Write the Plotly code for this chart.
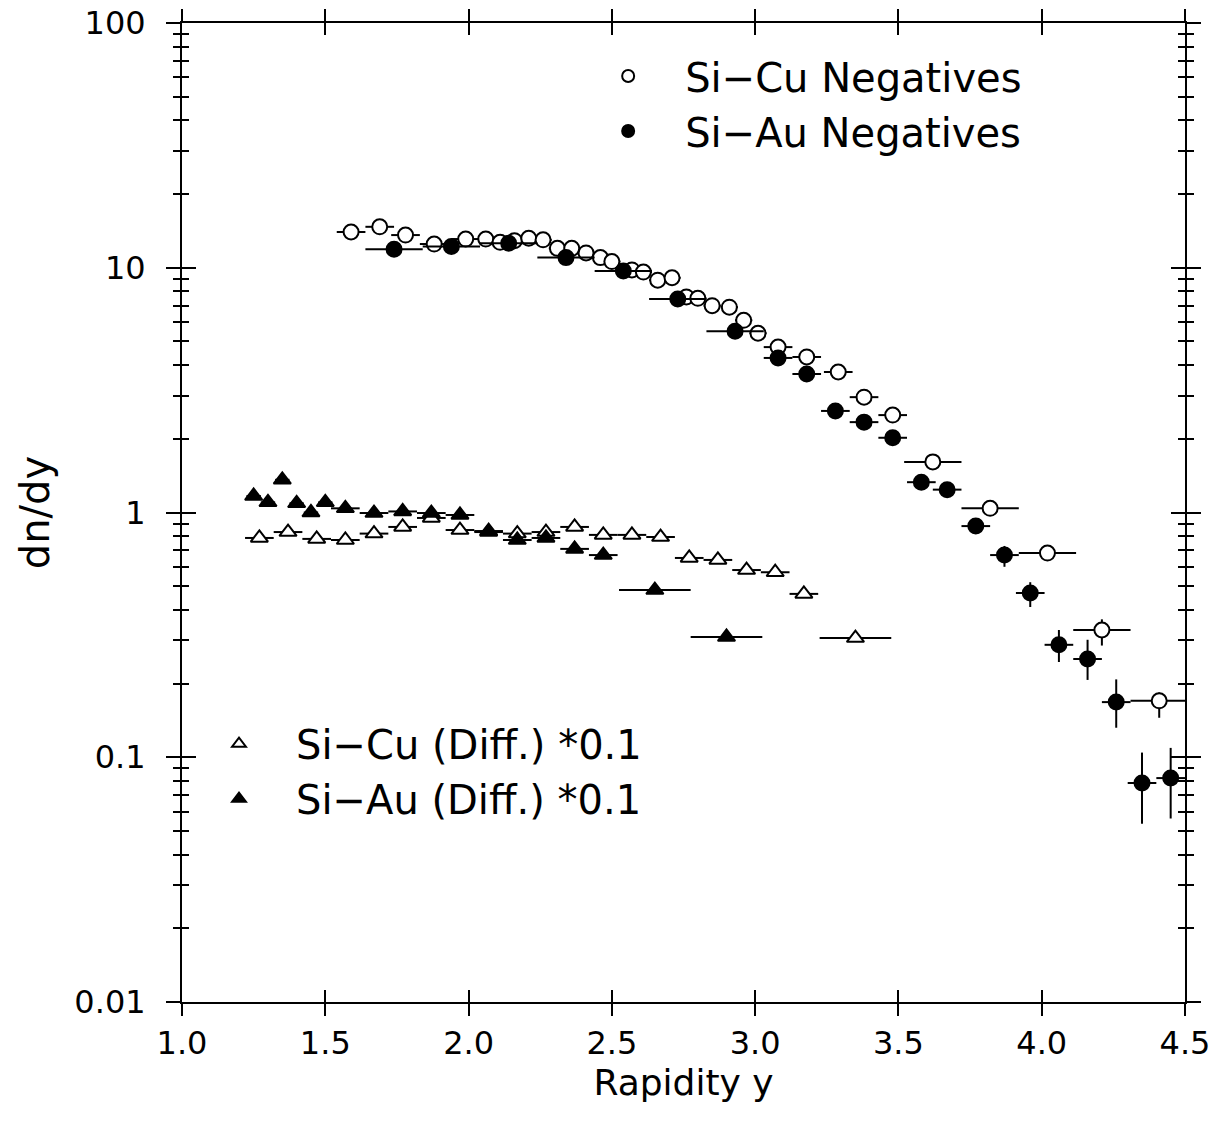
import plotly.graph_objects as go

# ---------------- data ----------------
cu_neg_x = [1.59, 1.69, 1.78, 1.88, 1.99, 2.06, 2.11, 2.16, 2.21, 2.26, 2.31, 2.36, 2.41, 2.46, 2.50,
            2.57, 2.61, 2.66, 2.71, 2.76, 2.80, 2.85, 2.91, 2.96, 3.01, 3.08, 3.18, 3.29, 3.38, 3.48,
            3.62, 3.82, 4.02, 4.21, 4.41]
cu_neg_y = [14.0, 14.7, 13.6, 12.5, 13.1, 13.1, 12.7, 12.9, 13.2, 13.0, 12.0, 12.0, 11.5, 11.0, 10.6,
            9.8, 9.6, 8.9, 9.1, 7.6, 7.5, 7.0, 6.9, 6.1, 5.4, 4.74, 4.32, 3.75, 2.96, 2.50,
            1.61, 1.04, 0.683, 0.331, 0.170]
cu_neg_xerr = [0.05] * 5 + [0.03] * 20 + [0.05] * 5 + [0.1] * 5
cu_neg_yerr_p = [0] * 33 + [0.035, 0.014]
cu_neg_yerr_m = [0] * 33 + [0.045, 0.025]

au_neg_x = [1.74, 1.94, 2.14, 2.34, 2.54, 2.73, 2.93, 3.08, 3.18, 3.28, 3.38, 3.48, 3.58, 3.67,
            3.77, 3.87, 3.96, 4.06, 4.16, 4.26, 4.35, 4.45]
au_neg_y = [11.9, 12.2, 12.6, 11.0, 9.7, 7.45, 5.5, 4.28, 3.68, 2.60, 2.34, 2.02, 1.33, 1.24,
            0.88, 0.67, 0.469, 0.288, 0.252, 0.168, 0.0785, 0.0822]
au_neg_xerr = [0.1] * 7 + [0.05] * 15
au_neg_yerr_p = [0] * 15 + [0.06, 0.05, 0.043, 0.05, 0.04, 0.026, 0.027]
au_neg_yerr_m = [0] * 15 + [0.07, 0.058, 0.043, 0.045, 0.036, 0.025, 0.026]

cu_diff_x = [1.27, 1.37, 1.47, 1.57, 1.67, 1.77, 1.87, 1.97, 2.07, 2.17, 2.27, 2.37, 2.47, 2.57,
             2.67, 2.77, 2.87, 2.97, 3.07, 3.17, 3.35]
cu_diff_y = [0.787, 0.832, 0.78, 0.772, 0.82, 0.873, 0.95, 0.848, 0.84, 0.82, 0.832, 0.873, 0.81,
             0.81, 0.794, 0.652, 0.64, 0.582, 0.57, 0.465, 0.307]
cu_diff_xerr = [0.05] * 20 + [0.125]

au_diff_x = [1.25, 1.30, 1.35, 1.40, 1.45, 1.50, 1.57, 1.67, 1.77, 1.87, 1.97, 2.07, 2.17, 2.27,
             2.37, 2.47, 2.65, 2.90]
au_diff_y = [1.168, 1.10, 1.36, 1.09, 1.00, 1.10, 1.04, 0.995, 1.01, 0.995, 0.977, 0.832, 0.772,
             0.787, 0.71, 0.67, 0.482, 0.31]
au_diff_xerr = [0.025] * 6 + [0.05] * 10 + [0.125] * 2

y_tickvals = [0.01, 0.1, 1, 10, 100]
y_ticktext = ["0.01", "0.1", "1", "10", "100"]
x_tickvals = [1.0, 1.5, 2.0, 2.5, 3.0, 3.5, 4.0, 4.5]
x_ticktext = ["1.0", "1.5", "2.0", "2.5", "3.0", "3.5", "4.0", "4.5"]

FONT = "DejaVu Sans"
minor_vals = [m * 10 ** e for e in range(-2, 2) for m in range(2, 10)]

fig = go.Figure()


def add(x, y, xerr, name, symbol, fill, legend, yp=None, ym=None):
    kw = dict(
        x=x, y=y, mode="markers", name=name, legend=legend,
        marker=dict(symbol=symbol, size=15, color=fill, line=dict(color="black", width=2)),
        error_x=dict(type="data", array=xerr, symmetric=True, color="black", thickness=2, width=0),
    )
    if yp is not None:
        kw["error_y"] = dict(type="data", array=yp, arrayminus=ym, symmetric=False,
                             color="black", thickness=2, width=0)
    fig.add_trace(go.Scatter(**kw))


add(cu_neg_x, cu_neg_y, cu_neg_xerr, "Si\u2212Cu Negatives", "circle", "white", "legend",
    cu_neg_yerr_p, cu_neg_yerr_m)
add(au_neg_x, au_neg_y, au_neg_xerr, "Si\u2212Au Negatives", "circle", "black", "legend",
    au_neg_yerr_p, au_neg_yerr_m)
add(cu_diff_x, cu_diff_y, cu_diff_xerr, "Si\u2212Cu (Diff.) *0.1", "triangle-up", "white", "legend2")
add(au_diff_x, au_diff_y, au_diff_xerr, "Si\u2212Au (Diff.) *0.1", "triangle-up", "black", "legend2")

# invisible trace on overlay axes so they render
fig.add_trace(go.Scatter(x=[1.0], y=[1.0], xaxis="x2", yaxis="y2", mode="markers",
                         marker=dict(opacity=0), showlegend=False, hoverinfo="skip"))

common_x = dict(range=[1.0, 4.5], tickvals=x_tickvals, ticktext=x_ticktext, tickwidth=2,
                ticklen=12, tickcolor="black", showgrid=False, zeroline=False)
common_y = dict(type="log", range=[-2, 2], tickvals=y_tickvals, ticktext=y_ticktext, tickwidth=2,
                ticklen=14, tickcolor="black", showgrid=False, zeroline=False,
                minor=dict(tickvals=minor_vals, ticks="outside", ticklen=7, tickwidth=2,
                           tickcolor="black", showgrid=False))

fig.update_layout(
    width=1222, height=1122,
    margin=dict(l=182, r=37, t=23, b=120, autoexpand=False),
    paper_bgcolor="white", plot_bgcolor="white",
    font=dict(family=FONT, color="black", size=32),
    xaxis=dict(**common_x, ticks="outside", mirror="ticks", showline=True, linewidth=2,
               linecolor="black", tickfont=dict(size=32), ticklabelstandoff=0,
               title=dict(text="Rapidity y", font=dict(size=36), standoff=0)),
    yaxis=dict(**common_y, ticks="outside", mirror="ticks", showline=True, linewidth=2,
               linecolor="black", tickfont=dict(size=32), ticklabelstandoff=14,
               title=dict(text="dn/dy", font=dict(size=40), standoff=12)),
    xaxis2=dict(**common_x, overlaying="x", ticks="inside", mirror="ticks", showline=False,
                showticklabels=False),
    yaxis2=dict(**{**common_y, "minor": dict(tickvals=minor_vals, ticks="inside", ticklen=7,
                                             tickwidth=2, tickcolor="black", showgrid=False)},
                overlaying="y", ticks="inside", mirror="ticks", showline=False,
                showticklabels=False),
    legend=dict(x=0.388, y=0.979, xanchor="left", yanchor="top", bgcolor="rgba(0,0,0,0)",
                font=dict(size=40, family=FONT), itemwidth=104, itemsizing="constant"),
    legend2=dict(x=0.0, y=0.297, xanchor="left", yanchor="top", bgcolor="rgba(0,0,0,0)",
                 font=dict(size=40, family=FONT), itemwidth=104, itemsizing="constant"),
)

fig.write_html("out.html")
